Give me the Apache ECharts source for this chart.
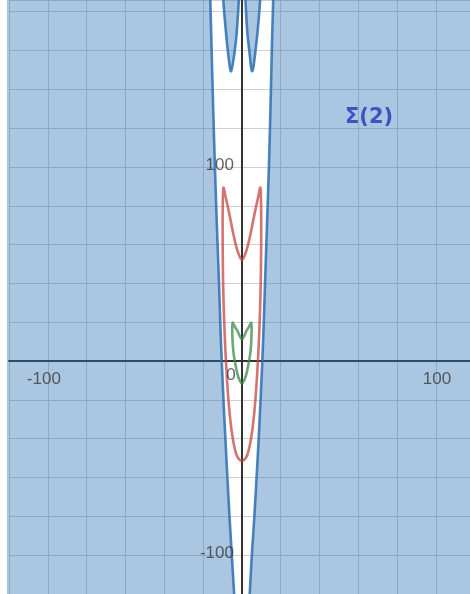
<!DOCTYPE html>
<html>
<head>
<meta charset="utf-8">
<script src="https://cdn.jsdelivr.net/npm/echarts@6/dist/echarts.min.js"></script>
<style>
  html, body { margin:0; padding:0; background:#fff; }
  #chart { width:470px; height:594px; }
</style>
</head>
<body>
<div id="chart"></div>
<script>
  // axis ranges and ticks (graph units)
  var xRange = [-120, 117.5];
  var yRange = [-120, 186];
  var tickStep = 20;
  var labelTicks = [-100, 100];

  // outer blue boundary, left and right branch, top to bottom
  var outerLeft = [[-16.7,200],[-16.3,186],[-15.6,160],[-14.8,130],[-13.9,100],[-12.9,70],[-11.8,40],
    [-10.8,10],[-9.5,-20],[-8.0,-50],[-6.4,-80],[-5.2,-100],[-4.0,-120],[-3.3,-132]];
  var outerRight = [[16.5,200],[16.1,186],[15.4,160],[14.7,130],[13.9,100],[12.9,70],[11.9,40],
    [10.9,10],[9.6,-20],[8.1,-50],[6.4,-80],[5.1,-100],[4.0,-120],[3.3,-132]];
  // the two blue loops hanging from the top
  var loopLeft = [[-10.2,200],[-9.6,186],[-8.2,169],[-7.3,160],[-6.3,152],[-5.7,149.3],[-5.0,151.5],
    [-3.8,159],[-2.7,169],[-1.6,186],[-1.0,200]];
  var loopRight = [[1.2,200],[1.8,186],[2.8,169],[3.9,159],[4.7,151.5],[5.3,149.3],[6.0,152],
    [7.0,160],[8.0,169],[9.4,186],[10.0,200]];
  // red and green closed curves
  var redCurve = [[0,-51.5],[-2.7,-48.5],[-5.0,-38],[-6.6,-24],[-7.9,-6],[-8.9,14],[-9.6,36],[-9.9,58],
    [-9.9,78],[-9.5,89.3],[-8.5,85],[-6.2,74.4],[-4.5,65.8],[-2.4,57.2],[0,52.2],[2.4,57.2],[4.5,65.8],
    [6.2,74.4],[8.5,85],[9.5,89.3],[9.9,78],[9.9,58],[9.6,36],[8.9,14],[7.9,-6],[6.6,-24],[5.0,-38],[2.7,-48.5]];
  var greenCurve = [[0,-11.5],[-1.9,-8.1],[-3.1,-2.9],[-4.3,4],[-4.9,12],[-4.8,19.7],[-3.6,17.6],
    [-2.3,15.5],[-1.1,12.8],[0,11.2],[1.1,12.8],[2.3,15.5],[3.6,17.6],[4.8,19.7],[4.9,12],[4.3,4],
    [3.1,-2.9],[1.9,-8.1]];

  var SMOOTH = 0.35;
  var shade = 'rgba(45,112,179,0.4)';

  // shaded parts: outside the outer boundary and inside the top loops
  function closeToSide(pts, xEdge){
    return pts.concat([[xEdge, pts[pts.length-1][1]], [xEdge, pts[0][1]]]);
  }
  var shadeRegions = [
    closeToSide(outerLeft, xRange[0] - 40),
    closeToSide(outerRight, xRange[1] + 40),
    loopLeft,
    loopRight
  ];

  function px(api, pts){
    return pts.map(function(p){ return api.coord(p); });
  }

  // tick labels sit on the axes (at zero), not at the grid edge
  var xTickLabels = labelTicks.map(function(v){
    return {value:[v, 0], label:{offset:[v < 0 ? -4 : 1, -2]}};
  });
  var yTickLabels = labelTicks.map(function(v){ return [0, v]; });
  var lbl = {fontSize:17, color:'#3a3a3a', fontFamily:'Liberation Sans'};

  var chart = echarts.init(document.getElementById('chart'));

  chart.setOption({
    animation:false,
    grid:{left:9, right:0, top:0, bottom:0, containLabel:false, outerBoundsMode:'none'},
    xAxis:{
      type:'value', min:xRange[0], max:xRange[1], interval:tickStep,
      axisLine:{onZero:true, lineStyle:{color:'#333', width:2}},
      axisTick:{show:false}, axisLabel:{show:false},
      splitLine:{lineStyle:{color:'#cfcfcf', width:1}}
    },
    yAxis:{
      type:'value', min:yRange[0], max:yRange[1], interval:tickStep,
      axisLine:{onZero:true, lineStyle:{color:'#333', width:2}},
      axisTick:{show:false}, axisLabel:{show:false},
      splitLine:{lineStyle:{color:'#cfcfcf', width:1}}
    },
    graphic:[
      {type:'rect', left:7, top:0, shape:{width:2, height:594}, style:{fill:shade}, z:10},
      {type:'text', left:345, top:107, style:{text:'Σ(2)', fill:'#4150c2', font:'bold 21px "DejaVu Sans"'}, z:10}
    ],
    series:[
      {
        type:'scatter', symbolSize:0, silent:true, data:xTickLabels,
        label:Object.assign({show:true, position:'bottom', distance:12,
          formatter:function(p){ return String(p.value[0]); }}, lbl)
      },
      {
        type:'scatter', symbolSize:0, silent:true, data:[[0,0]],
        label:Object.assign({show:true, position:'bottom', distance:6, offset:[-11,0], formatter:'0'}, lbl)
      },
      {
        type:'scatter', symbolSize:0, silent:true, data:yTickLabels,
        label:Object.assign({show:true, position:'left', distance:8, offset:[0,-2],
          formatter:function(p){ return String(p.value[1]); }}, lbl)
      },
      {
        type:'custom', clip:true, silent:true,
        data:[[0,0]],
        renderItem:function(params, api){
          var kids = [];
          shadeRegions.forEach(function(r){
            kids.push({type:'polygon', shape:{points:px(api, r), smooth:SMOOTH}, style:{fill:shade}});
          });
          [outerLeft, outerRight, loopLeft, loopRight].forEach(function(r){
            kids.push({type:'polyline', shape:{points:px(api, r), smooth:SMOOTH},
              style:{fill:null, stroke:'#2d70b3', lineWidth:2.6, opacity:0.85}});
          });
          kids.push({type:'polygon', shape:{points:px(api, redCurve), smooth:SMOOTH},
            style:{fill:null, stroke:'#c74440', lineWidth:2.6, opacity:0.75}});
          kids.push({type:'polygon', shape:{points:px(api, greenCurve), smooth:SMOOTH},
            style:{fill:null, stroke:'#388c46', lineWidth:2.6, opacity:0.75}});
          return {type:'group', children:kids};
        }
      }
    ]
  });
</script>
</body>
</html>
